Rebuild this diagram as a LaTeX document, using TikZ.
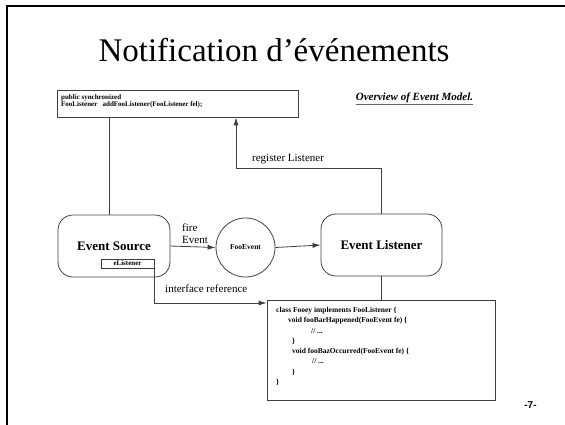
\documentclass[tikz,border=0pt]{standalone}
\usepackage{fontspec}
\setmainfont{Liberation Serif}
\newfontfamily\pagefont{Liberation Sans}
\usetikzlibrary{arrows.meta}
\tikzset{
  ln/.style={draw=black!75, line width=0.8pt},
  arr/.style={ln, -{Latex[length=8pt,width=5pt]}},
  plainbox/.style={ln, rectangle, inner sep=0pt},
  roundbox/.style={ln, rectangle, rounded corners=15pt, inner sep=0pt, minimum width=112pt, minimum height=62pt, font=\bfseries\fontsize{13}{15}\selectfont},
  lbl/.style={font=\fontsize{11}{12}\selectfont, inner sep=0pt},
  codetxt/.style={font=\bfseries\fontsize{7.5}{10.3}\selectfont, align=left, inner sep=0pt, anchor=north west}
}
\begin{document}
\begin{tikzpicture}[x=1pt,y=-1pt]
\useasboundingbox (0,0) rectangle (565,424);
% frame
\draw[line width=2.5pt, black] (7,440) -- (7,6) -- (580,6);
% title
\node[font=\fontsize{33}{39}\selectfont, inner sep=0pt] (title) at (274,50) {Notification d’événements};
% top box
\node[plainbox, minimum width=241pt, minimum height=27pt] (topbox) at (177.5,103.5) {};
\node[codetxt, font=\bfseries\fontsize{7}{7.8}\selectfont] (toptxt) at (61,94) {public synchronized\\FooListener\ \ \ addFooListener(FooListener fel);};
\node[font=\bfseries\itshape\fontsize{11}{12}\selectfont, inner sep=0pt] (overview) at (414.5,98) {Overview of Event Model.};
\draw[black!60, line width=1.4pt] ([yshift=-1.5pt]overview.south west) -- ([yshift=-1.5pt]overview.south east);
% event source
\node[roundbox] (src) at (114,246) {};
\node[font=\bfseries\fontsize{13}{15}\selectfont, inner sep=0pt] (srctxt) at (114,246) {Event Source};
\node[plainbox, minimum width=53pt, minimum height=9pt, font=\bfseries\fontsize{7}{8}\selectfont] (elis) at (127.5,263.5) {eListener};
% event
\node[ln, circle, minimum size=59pt, inner sep=0pt, font=\bfseries\fontsize{7.5}{9}\selectfont] (fooev) at (245.5,247.5) {FooEvent};
% listener
\node[roundbox, minimum width=121pt] (lis) at (381.5,245) {Event Listener};
% code box
\node[plainbox, minimum width=228pt, minimum height=100pt] (code) at (381,350) {};
\node[codetxt] (codetxt) at (276,307) {class Fooey implements FooListener \{\\
\hspace*{12pt}void fooBarHappened(FooEvent fe) \{\\
\hspace*{35pt}// ...\\
\hspace*{16pt}\}\\
\hspace*{16pt}void fooBazOccurred(FooEvent fe) \{\\
\hspace*{36pt}// ...\\
\hspace*{16pt}\}\\
\}};
% page number
\node[font=\pagefont\bfseries\fontsize{10}{12}\selectfont, inner sep=0pt] (pg) at (530.5,405) {-7-};
% connectors
\coordinate (c1) at (109,0);
\draw[ln] (topbox.south -| c1) -- (src.north -| c1);
\draw[arr] (src.east) -- (fooev.west);
\node[lbl, align=left, anchor=west] (fire) at (182,234) {fire\\Event};
\draw[arr] (fooev.east) -- (lis.west);
\coordinate (rc) at (236,168);
\draw[arr] (lis.north) |- (rc) -- (rc |- topbox.south);
\node[lbl, anchor=base west] (reg) at (252,161) {register Listener};
\draw[ln] (lis.south) -- (lis.south |- code.north);
\coordinate (ic) at (0,303);
\draw[arr] (elis.south east) |- (code.west |- ic);
\node[lbl, anchor=base west] (iref) at (165,292) {interface reference};
\end{tikzpicture}
\end{document}
